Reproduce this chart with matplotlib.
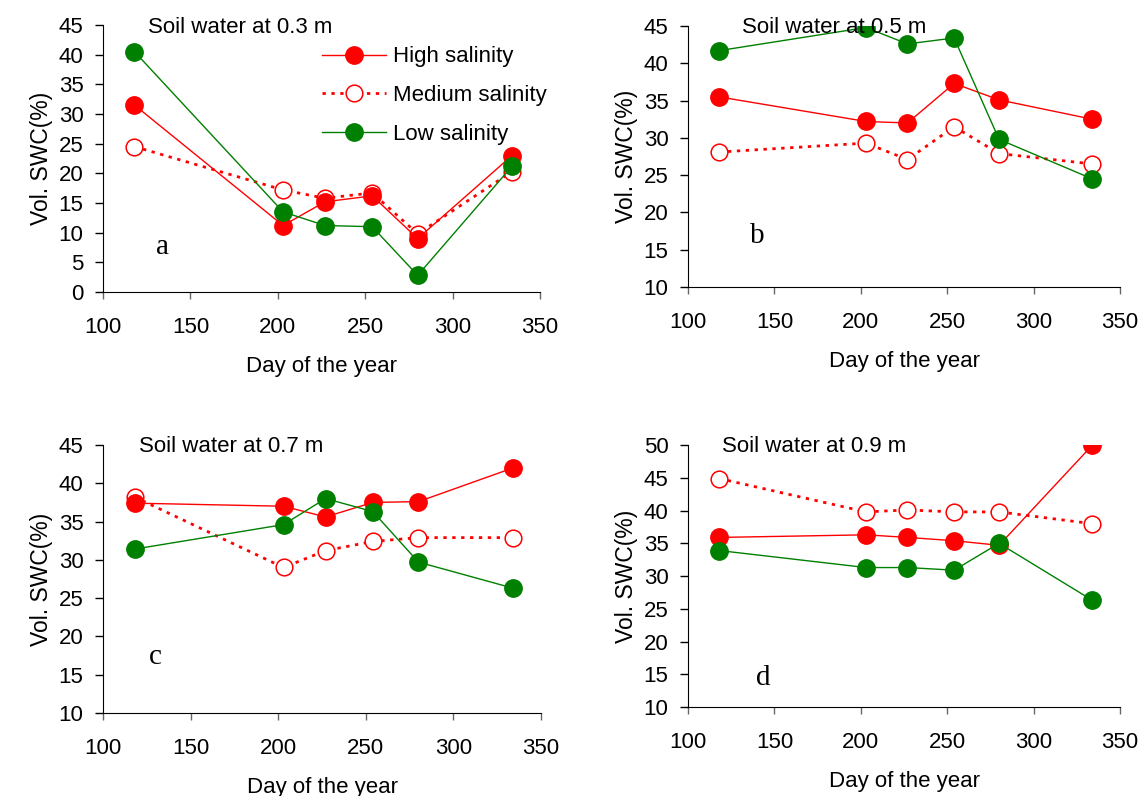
import matplotlib.pyplot as plt
import numpy as np

plt.rcParams['font.family'] = ['Liberation Sans', 'DejaVu Sans']

days = [118, 203, 227, 254, 280, 334]

# soil water at 0.3 m
high_03 = [31.5, 11.2, 15.2, 16.2, 9.0, 23.0]
medium_03 = [24.5, 17.2, 15.8, 16.7, 9.8, 20.3]
low_03 = [40.5, 13.5, 11.2, 11.0, 2.8, 21.2]

# soil water at 0.5 m
high_05 = [35.5, 32.2, 32.0, 37.3, 35.1, 32.5]
medium_05 = [28.1, 29.3, 27.1, 31.5, 27.9, 26.5]
low_05 = [41.7, 44.8, 42.6, 43.4, 29.8, 24.5]

# soil water at 0.7 m
high_07 = [37.4, 37.0, 35.6, 37.5, 37.6, 42.0]
medium_07 = [38.2, 29.0, 31.2, 32.4, 32.9, 32.9]
low_07 = [31.4, 34.6, 38.0, 36.3, 29.7, 26.3]

# soil water at 0.9 m
high_09 = [35.9, 36.3, 35.9, 35.4, 34.7, 50.0]
medium_09 = [44.9, 39.8, 40.1, 39.8, 39.8, 38.0]
low_09 = [33.9, 31.3, 31.3, 30.9, 35.0, 26.3]

series_labels = ['High salinity', 'Medium salinity', 'Low salinity']

panels = [
    ('Soil water at 0.3 m', 'a', high_03, medium_03, low_03, (0, 45), [0.0903, 0.6332, 0.3830, 0.3354]),
    ('Soil water at 0.5 m', 'b', high_05, medium_05, low_05, (10, 45), [0.6030, 0.6394, 0.3786, 0.3279]),
    ('Soil water at 0.7 m', 'c', high_07, medium_07, low_07, (10, 45), [0.0903, 0.1043, 0.3839, 0.3367]),
    ('Soil water at 0.9 m', 'd', high_09, medium_09, low_09, (10, 50), [0.6030, 0.1118, 0.3786, 0.3290]),
]
title_pos = [(0.103, 0.99), (0.124, 0.996), (0.083, 0.996), (0.079, 0.996)]
letter_pos = [(0.135, 0.17), (0.16, 0.195), (0.119, 0.21), (0.174, 0.11)]

fig = plt.figure(figsize=(11.41, 7.96), dpi=100)

for i, (title, letter, high, medium, low, ylim, rect) in enumerate(panels):
    ax = fig.add_axes(rect)
    ax.plot(days, high, color='#ff0000', lw=1.0, marker='o', ms=12.5,
            markerfacecolor='#ff0000', markeredgecolor='#ff0000', label=series_labels[0], zorder=3)
    ax.plot(days, medium, color='#ff0000', lw=2.0, ls=(0, (1.2, 2.0)), marker='o', ms=12,
            markerfacecolor='white', markeredgecolor='#ff0000', markeredgewidth=1.1,
            label=series_labels[1], zorder=2)
    ax.plot(days, low, color='#008000', lw=1.0, marker='o', ms=12.5,
            markerfacecolor='#008000', markeredgecolor='#008000', label=series_labels[2], zorder=3)

    ax.set_xlim(100, 350)
    ax.set_ylim(*ylim)
    ax.set_xticks(np.arange(100, 351, 50))
    ax.set_yticks(np.arange(ylim[0], ylim[1] + 1, 5))
    ax.spines['top'].set_visible(False)
    ax.spines['right'].set_visible(False)
    ax.tick_params(axis='x', direction='out', length=5, width=1, color='#666666', pad=13, labelsize=16)
    ax.tick_params(axis='y', direction='out', length=6, width=1, pad=8, labelsize=16)
    ax.set_xlabel('Day of the year', fontsize=16, labelpad=13)
    ax.set_ylabel('Vol. SWC(%)', fontsize=16.5, labelpad=4)

    ax.text(title_pos[i][0], title_pos[i][1], title, transform=ax.transAxes,
            fontsize=16, ha='left', va='center')
    ax.text(letter_pos[i][0], letter_pos[i][1], letter, transform=ax.transAxes,
            fontsize=21, family='Liberation Serif', ha='center', va='center')

    if i == 0:
        ax.legend(loc='upper left', bbox_to_anchor=(0.501, 0.92), frameon=False,
                  fontsize=16, handlelength=2.9, handletextpad=0.3, labelspacing=0.8,
                  borderpad=0, borderaxespad=0, numpoints=1)

plt.savefig('out.png', dpi=100)
